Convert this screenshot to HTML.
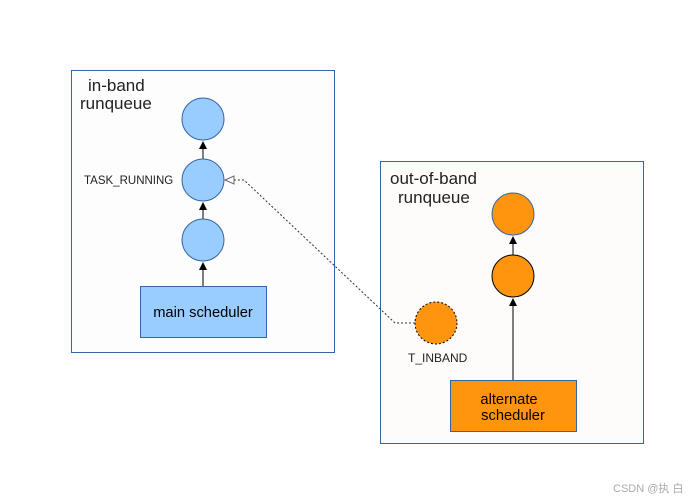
<!DOCTYPE html>
<html><head><meta charset="utf-8"><style>
html,body{margin:0;padding:0;background:#fff;}
svg{display:block;}
text{font-family:"Liberation Sans","Noto Sans CJK SC",sans-serif;}
</style></head><body>
<svg width="700" height="500" viewBox="0 0 700 500" xmlns="http://www.w3.org/2000/svg">
<defs>
<marker id="a" markerWidth="8" markerHeight="8" refX="7" refY="4" orient="auto" markerUnits="userSpaceOnUse">
<path d="M0,0 L8,4 L0,8 z" fill="#000"/></marker>
</defs>
<rect x="71.5" y="70.5" width="263" height="282" fill="#fdfdfd" stroke="#3465a4" stroke-width="1"/>
<rect x="380.5" y="161.5" width="263" height="282" fill="#fdfcfa" stroke="#3465a4" stroke-width="1"/>
<text x="88" y="91" font-size="17" fill="#222">in-band</text>
<text x="80" y="109" font-size="17" fill="#222">runqueue</text>
<text x="390" y="184" font-size="17" fill="#222">out-of-band</text>
<text x="398" y="203" font-size="17" fill="#222">runqueue</text>
<line x1="203" y1="286" x2="203" y2="263" stroke="#000" marker-end="url(#a)"/>
<line x1="203" y1="219" x2="203" y2="203" stroke="#000" marker-end="url(#a)"/>
<line x1="203" y1="159" x2="203" y2="142" stroke="#000" marker-end="url(#a)"/>
<circle cx="203" cy="119" r="21" fill="#99ccff" stroke="#3465a4"/>
<circle cx="203" cy="180" r="21" fill="#99ccff" stroke="#3465a4"/>
<circle cx="203" cy="240" r="21" fill="#99ccff" stroke="#3465a4"/>
<rect x="140.5" y="286.5" width="126" height="51" fill="#99ccff" stroke="#3465a4"/>
<text x="203" y="317" font-size="14.7" text-anchor="middle" fill="#000">main scheduler</text>
<text x="84" y="184" font-size="11.5" fill="#222">TASK_RUNNING</text>
<line x1="513" y1="380" x2="513" y2="299" stroke="#000" marker-end="url(#a)"/>
<line x1="513" y1="255" x2="513" y2="237" stroke="#000" marker-end="url(#a)"/>
<circle cx="513" cy="214" r="21" fill="#ff950e" stroke="#3465a4"/>
<circle cx="513" cy="276" r="21" fill="#ff950e" stroke="#000"/>
<rect x="450.5" y="380.5" width="126" height="51" fill="#ff950e" stroke="#3465a4"/>
<text x="509" y="404" font-size="14.7" text-anchor="middle" fill="#000">alternate</text>
<text x="513" y="420" font-size="14.7" text-anchor="middle" fill="#000">scheduler</text>
<circle cx="436" cy="323" r="21" fill="#ff950e" stroke="#000" stroke-dasharray="2,2"/>
<text x="408" y="362" font-size="12" fill="#222">T_INBAND</text>
<polyline points="415,323 395,323 244,180 233,180" fill="none" stroke="#333" stroke-dasharray="2,2"/>
<path d="M225,180 L234,176 L234,184 z" fill="#fff" stroke="#666"/>
<text x="613" y="492" font-size="11" fill="#aaa">CSDN @执 白</text>
</svg>
</body></html>
